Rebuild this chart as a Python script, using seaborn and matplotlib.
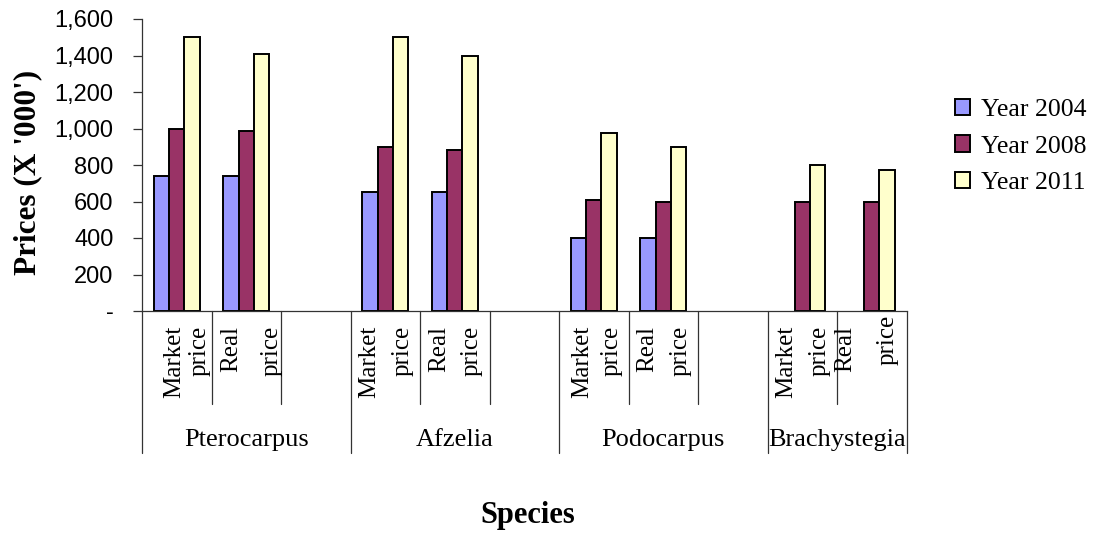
import numpy as np
import pandas as pd
import matplotlib
matplotlib.use("Agg")
import matplotlib.pyplot as plt
import seaborn as sns

# ---- data ----
species = ["Pterocarpus", "Afzelia", "Podocarpus", "Brachystegia"]
price_types = ["Market price", "Real price"]
years = ["Year 2004", "Year 2008", "Year 2011"]
prices_2004 = [740, 740, 650, 650, 400, 400, np.nan, np.nan]
prices_2008 = [1000, 985, 900, 880, 610, 595, 595, 595]
prices_2011 = [1500, 1410, 1500, 1400, 975, 900, 800, 775]
colors = ["#9999FF", "#993366", "#FFFFCC"]
y_ticks = [0, 200, 400, 600, 800, 1000, 1200, 1400, 1600]

# each species takes three category slots (two price types + a blank one),
# the last species has no trailing blank
rows = []
k = 0
for i, sp in enumerate(species):
    for j, pt in enumerate(price_types):
        pos = 3 * i + j
        for yr, vals in zip(years, [prices_2004, prices_2008, prices_2011]):
            v = vals[k]
            if not np.isnan(v):
                rows.append({"species": sp, "type": pt, "pos": pos, "year": yr, "price": v})
        k += 1
df = pd.DataFrame(rows)
n_slots = 3 * len(species) - 1

sns.set_style("white")
plt.rcParams.update({"text.color": "black", "axes.labelcolor": "black",
                     "xtick.color": "black", "ytick.color": "black"})
serif = ["Liberation Serif", "DejaVu Serif"]
sans = ["Liberation Sans", "DejaVu Sans"]

fig = plt.figure(figsize=(10.98, 5.34), dpi=100)
ax = fig.add_axes([142 / 1098, 1 - 311 / 534, 764.5 / 1098, 292 / 534])

sns.barplot(data=df, x="pos", y="price", hue="year", hue_order=years,
            palette=colors, native_scale=True, width=0.667,
            edgecolor="black", linewidth=1.4, saturation=1, ax=ax)

ax.set_xlim(-0.5, n_slots - 0.5)
ax.set_ylim(0, 1600)
ax.set_xticks([])
ax.set_xlabel("")
ax.set_ylabel("")
ax.set_yticks(y_ticks)
ax.set_yticklabels(["-" if t == 0 else f"{t:,}" for t in y_ticks],
                   family=sans, fontsize=17, color="black")
ax.tick_params(axis="y", left=True, length=6.5, width=0.9, pad=14,
               direction="out", color="#333333")
for s in ["top", "right"]:
    ax.spines[s].set_visible(False)
for s in ["left", "bottom"]:
    ax.spines[s].set_color("#333333")
    ax.spines[s].set_linewidth(0.9)

# multi-level category axis
trans = matplotlib.transforms.blended_transform_factory(ax.transData, ax.transAxes)
group_edges = {-0.5, 2.5, 5.5, 8.5, n_slots - 0.5}
for b in np.arange(-0.5, n_slots, 1.0):
    bottom = -0.486 if b in group_edges else -0.3185
    ax.plot([b, b], [0, bottom], color="#333333", lw=0.9,
            transform=trans, clip_on=False)

# horizontal placement of the two wrapped lines within each slot
line_offsets = [(0.46, 0.83), (0.28, 0.87),
                (0.27, 0.75), (0.27, 0.74),
                (0.33, 0.755), (0.27, 0.755),
                (0.27, 0.755), (0.12, 0.73)]
k = 0
for i, sp in enumerate(species):
    for j, pt in enumerate(price_types):
        left = 3 * i + j - 0.5
        words = pt.split()
        offs = line_offsets[k]
        for w, o in zip(words, offs):
            top = -0.014 if (k == 7 and w == "price") else -0.05
            ax.text(left + o, top, w, rotation=90, ha="center", va="top",
                    family=serif, fontsize=18, color="black", transform=trans)
        k += 1
    mid = (3 * i - 0.5 + min(3 * i + 2.5, n_slots - 0.5)) / 2
    ax.text(mid, -0.442, sp, ha="center", va="center",
            family=serif, fontsize=19, color="black", transform=trans)

fig.text(28 / 1098, 1 - 172 / 534, "Prices (X '000')", rotation=90,
         ha="center", va="center", family=serif, fontsize=22.5,
         fontweight="bold", color="black")
fig.text(528 / 1098, 1 - 516 / 534, "Species", ha="center", va="center",
         family=serif, fontsize=22, fontweight="bold", color="black")

handles, labels = ax.get_legend_handles_labels()
if ax.get_legend() is not None:
    ax.get_legend().remove()
leg = ax.legend(handles, labels, loc="center left",
                bbox_to_anchor=(955 / 1098, 1 - 146.5 / 534),
                bbox_transform=fig.transFigure, frameon=False,
                handlelength=0.6, handleheight=0.6, handletextpad=0.4,
                labelspacing=0.55, borderpad=0, borderaxespad=0,
                prop={"family": serif, "size": 18.5})
for t in leg.get_texts():
    t.set_color("black")

fig.savefig("out.png", dpi=100, facecolor="white")
